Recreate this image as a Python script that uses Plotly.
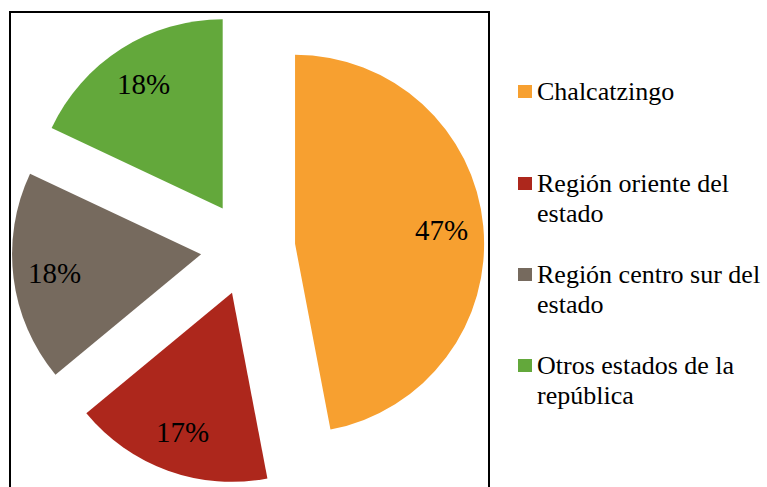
import math
import textwrap
import plotly.graph_objects as go

# Origin of respondents (percent)
categories = ["Chalcatzingo", "Región oriente del estado",
              "Región centro sur del estado", "Otros estados de la república"]
values = [47, 17, 18, 18]
colors = ["#F7A030", "#AD271C", "#766A5E", "#63A83B"]

W, H = 767, 487
M_TOP = 12
PLOT_H = H - M_TOP
SERIF = "Times New Roman"
PULL = 0.25
LABEL_R = 0.78  # label distance from each slice's apex, as a fraction of the radius

def px_x(x):
    return x / W

def px_y(y):
    return (H - y) / PLOT_H

cx = 248
dom_x = [px_x(cx - 240), px_x(cx + 240)]
dom_y = [0.005, 1.0]

fig = go.Figure()

# slices
fig.add_trace(go.Pie(
    values=values, labels=categories, sort=False, direction="clockwise",
    rotation=0, pull=[PULL] * len(values), showlegend=False, hoverinfo="skip",
    domain=dict(x=dom_x, y=dom_y),
    marker=dict(colors=colors, line=dict(width=0)),
    textinfo="none",
))

annotations = []

# percentage labels, at the same geometry plotly uses for the pie
pie_cx = W * (dom_x[0] + dom_x[1]) / 2
pie_cy = M_TOP + PLOT_H * (1 - (dom_y[0] + dom_y[1]) / 2)
radius = min(W * (dom_x[1] - dom_x[0]), PLOT_H * (dom_y[1] - dom_y[0])) / 2 / (1 + PULL)
total = sum(values)
start = 0.0
for v in values:
    frac = v / total
    mid = 2 * math.pi * (start + frac / 2)
    dist = (PULL + LABEL_R) * radius
    lx = pie_cx + dist * math.sin(mid)
    ly = pie_cy - dist * math.cos(mid)
    annotations.append(dict(text=f"{frac * 100:.0f}%", xref="paper", yref="paper",
                            x=px_x(lx), y=px_y(ly), xanchor="center", yanchor="middle",
                            showarrow=False,
                            font=dict(family=SERIF, size=29, color="#000000")))
    start += frac

# chart frame (open at the bottom edge of the page)
frame_left, frame_right, frame_top, frame_h = 10.5, 489, 11.5, 520
annotations.append(dict(text=" ", xref="paper", yref="paper",
                        x=px_x((frame_left + frame_right) / 2),
                        y=px_y(frame_top + frame_h / 2),
                        xanchor="center", yanchor="middle", showarrow=False,
                        width=frame_right - frame_left - 2, height=frame_h - 2,
                        borderpad=0, borderwidth=2, bordercolor="#000000",
                        bgcolor="rgba(0,0,0,0)", font=dict(size=6)))

# legend
first_line_y = 92
item_pitch = 91.3
line_pitch = 30
for i, (name, col) in enumerate(zip(categories, colors)):
    yc = first_line_y + i * item_pitch
    annotations.append(dict(text=" ", xref="paper", yref="paper",
                            x=px_x(525), y=px_y(yc), xanchor="center", yanchor="middle",
                            showarrow=False, width=14, height=13, borderpad=0,
                            borderwidth=0, bgcolor=col, font=dict(size=6)))
    for j, line in enumerate(textwrap.wrap(name, 21)):
        annotations.append(dict(text=line, xref="paper", yref="paper",
                                x=px_x(535), y=px_y(yc + j * line_pitch),
                                xanchor="left", yanchor="middle", showarrow=False,
                                font=dict(family=SERIF, size=26, color="#000000")))

fig.update_layout(
    width=W, height=H,
    margin=dict(l=0, r=0, t=M_TOP, b=0),
    paper_bgcolor="#FFFFFF", plot_bgcolor="#FFFFFF",
    annotations=annotations,
)

fig.write_html("out.html")
